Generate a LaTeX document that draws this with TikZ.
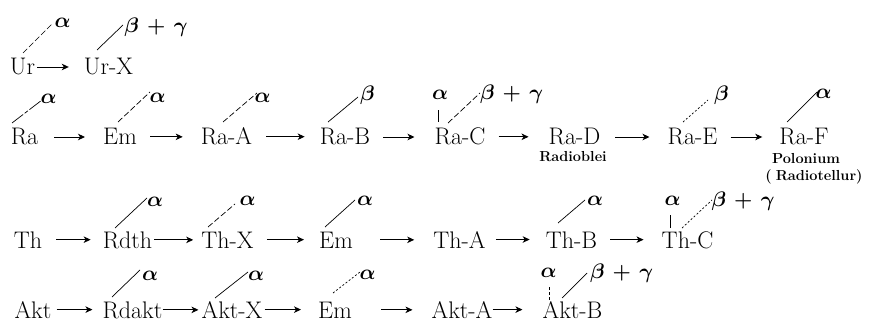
\RequirePackage{fix-cm}
\documentclass[tikz,border=0pt]{standalone}
\usepackage{bm}
\usetikzlibrary{arrows.meta,calc}
\tikzset{
  txt/.style={anchor=base, inner sep=0pt, font=\fontsize{24}{28}\selectfont},
  lab/.style={anchor=base, inner sep=0pt, font=\fontsize{21}{25}\selectfont},
  sub/.style={anchor=base, inner sep=0pt, font=\fontsize{14.5}{16}\selectfont\bfseries},
  arr/.style={line width=0.9pt, -{Stealth[length=7pt,width=6.5pt,inset=2pt]}},
  ln/.style={line width=0.7pt},
  lndash/.style={ln, dash pattern=on 6pt off 2.5pt},
  lndot/.style={ln, dash pattern=on 2pt off 2pt},
}
\newcommand\arw[4]{\draw[arr,shorten <=#3pt,shorten >=#4pt] (#1.east) -- (#1.east -| #2.west);}
\newcommand\lnk[5][ln]{\draw[#1] ($(#2.base)+(#3)$) -- ($(#4.base)+(#5)$);}
\newcommand\al{$\bm{\alpha}$}
\newcommand\be{$\bm{\beta}$}
\newcommand\bg{$\bm{\beta}\mathbin{\,\bm{+}\,}\bm{\gamma}$}
\begin{document}
\begin{tikzpicture}[x=1pt,y=-1pt]
\fill[white] (0,0) rectangle (869,323);
\useasboundingbox (0,0) rectangle (869,323);
% Row 1
\node[txt] (ur)  at (22.5,75) {Ur};
\node[txt] (urx) at (108.5,75) {Ur-X};
\node[lab] (l1a) at (62.5,28) {\al};
\node[lab] (l1b) at (156,33) {\bg};
\arw{ur}{urx}{2}{15}
\lnk[lndash]{ur}{0.5,-22}{l1a}{-9.5,-5}
\lnk{urx}{-11.5,-25}{l1b}{-33,-8}
% Row 2
\node[txt] (ra)  at (24.5,145) {Ra};
\node[txt] (em)  at (120,145) {Em};
\node[txt] (raa) at (226.5,145) {Ra-A};
\node[txt] (rab) at (345,145) {Ra-B};
\node[txt] (rac) at (460,145) {Ra-C};
\node[txt] (rad) at (574.5,145) {Ra-D};
\node[txt] (rae) at (692.5,145) {Ra-E};
\node[txt] (raf) at (804,145) {Ra-F};
\node[sub] (s1) at (573,162) {Radioblei};
\node[sub] (s2) at (806,164) {Polonium};
\node[sub] (s3) at (814,180) {(\hspace{4pt}Radiotellur)};
\arw{ra}{em}{16}{18}
\arw{em}{raa}{13}{18}
\arw{raa}{rab}{14}{15}
\arw{rab}{rac}{13}{20}
\arw{rac}{rad}{13}{20}
\arw{rad}{rae}{15}{18}
\arw{rae}{raf}{13}{17}
\node[lab] (l2a) at (48.5,104) {\al};
\node[lab] (l2b) at (157.5,103) {\al};
\node[lab] (l2c) at (262.5,103) {\al};
\node[lab] (l2d) at (367.5,101) {\be};
\node[lab] (l2e) at (440,100) {\al};
\node[lab] (l2f) at (511.5,100) {\bg};
\node[lab] (l2g) at (721.5,101) {\be};
\node[lab] (l2h) at (823.5,99) {\al};
\lnk[ln, dash pattern=on 14pt off 2pt on 4pt off 2pt]{ra}{-12.5,-22}{l2a}{-6.5,-4}
\lnk[lndash]{em}{-2,-23}{l2b}{-7.5,-11}
\lnk[lndash]{raa}{-3.5,-23}{l2c}{-5.5,-10}
\lnk{rab}{-17,-23}{l2d}{-9.5,-4}
\lnk{rac}{-22,-23}{l2e}{-2,10}
\lnk[lndash]{rac}{-12,-22}{l2f}{-31.5,-7}
\lnk[lndot]{rae}{-9.5,-23}{l2g}{-13.5,-1}
\lnk{raf}{-17,-23}{l2h}{-6.5,-7}
% Row 3
\node[txt] (th)   at (28,248) {Th};
\node[txt] (rdth) at (127.5,248) {Rdth};
\node[txt] (thx)  at (227.5,248) {Th-X};
\node[txt] (em3)  at (336,248) {Em};
\node[txt] (tha)  at (459.5,248) {Th-A};
\node[txt] (thb)  at (571.5,248) {Th-B};
\node[txt] (thc)  at (687.5,248) {Th-C};
\arw{th}{rdth}{14}{12}
\arw{rdth}{thx}{2}{8}
\arw{thx}{em3}{13}{15}
\arw{em3}{tha}{27}{19}
\arw{tha}{thb}{10}{16}
\arw{thb}{thc}{13}{18}
\node[lab] (l3a) at (155,206) {\al};
\node[lab] (l3b) at (247.5,205) {\al};
\node[lab] (l3c) at (365,205) {\al};
\node[lab] (l3d) at (595,205) {\al};
\node[lab] (l3e) at (672.5,205) {\al};
\node[lab] (l3f) at (743,206) {\bg};
\lnk{rdth}{-12.5,-20}{l3a}{-8,-8}
\lnk[lndash]{thx}{-19.5,-21}{l3b}{-12.5,-1}
\lnk{em3}{-11,-21}{l3c}{-10,-5}
\lnk{thb}{-13.5,-25}{l3d}{-10,-5}
\lnk{thc}{-17.5,-20}{l3e}{-2.5,10}
\lnk[lndot]{thc}{-5.5,-20}{l3f}{-31,-6}
% Row 4
\node[txt] (akt)   at (33,318) {Akt};
\node[txt] (rdakt) at (132.5,318) {Rdakt};
\node[txt] (aktx)  at (232,318) {Akt-X};
\node[txt] (em4)   at (335,318) {Em};
\node[txt] (akta)  at (462,318) {Akt-A};
\node[txt] (aktb)  at (572.5,318) {Akt-B};
\arw{akt}{rdakt}{5}{10}
\arw{rdakt}{aktx}{0}{3}
\arw{aktx}{em4}{2}{17}
\arw{em4}{akta}{29}{19}
\arw{akta}{aktb}{0}{20}
\node[lab] (l4a) at (150,280) {\al};
\node[lab] (l4b) at (256,280) {\al};
\node[lab] (l4c) at (367.5,279) {\al};
\node[lab] (l4d) at (548.5,277) {\al};
\node[lab] (l4e) at (621.5,278) {\bg};
\lnk{rdakt}{-20.5,-21}{l4a}{-10,-10}
\lnk{aktx}{-17,-20}{l4b}{-8,-8}
\lnk[lndot]{em4}{-2,-25}{l4c}{-7.5,-7}
\lnk[ln, dash pattern=on 3pt off 2pt]{aktb}{-23.5,-18}{l4d}{0.5,10}
\lnk{aktb}{-10.5,-20}{l4e}{-34.5,-5}
\end{tikzpicture}
\end{document}
